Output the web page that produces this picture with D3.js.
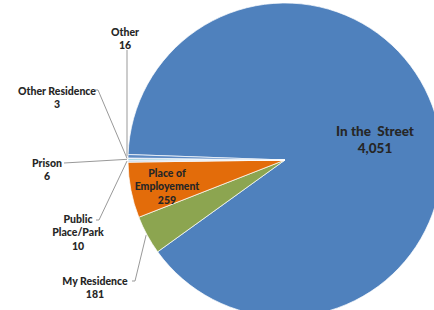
<!DOCTYPE html>
<html>
<head>
<meta charset="utf-8">
<script src="https://cdn.jsdelivr.net/npm/d3@7"></script>
<style>
  html, body { margin: 0; padding: 0; background: #fff; overflow: hidden; }
  svg { display: block; font-family: Lato, "Open Sans", sans-serif; font-weight: bold; }
</style>
</head>
<body>
<svg id="chart" width="434" height="310"></svg>
<script>
'use strict';

// slice data, in drawing order (clockwise)
const categories = ['In the  Street', 'My Residence', 'Place of Employement', 'Public Place/Park', 'Prison', 'Other Residence', 'Other'];
const values = [4051, 181, 259, 10, 6, 3, 16];
const colors = ['#4F81BD', '#8CA550', '#E36C0A', '#C6D3E6', '#4BACC6', '#9BB7D9', '#5C8AC4'];

// label layout: line breaks, anchor point and leader line elbow
const labelLines = [['In the  Street'], ['My Residence'], ['Place of', 'Employement'], ['Public', 'Place/Park'], ['Prison'], ['Other Residence'], ['Other']];
const labelPos = [[375, 131], [95, 281], [167, 173], [78, 219], [47, 163], [57, 91], [125, 32]];
const leaderStart = [null, [135, 281], null, [99, 220], [64, 163], [98, 90], [127, 50]];

const width = 434, height = 310;
const cx = 285, cy = 160, r = 157;
const fmt = d3.format(',');

const svg = d3.select('#chart');
const g = svg.append('g').attr('transform', 'translate(' + cx + ',' + cy + ')');

const startA = -88 * Math.PI / 180;
const pie = d3.pie().sort(null).value(d => d.value)
	.startAngle(startA).endAngle(startA + 2 * Math.PI);

const data = categories.map((c, i) => ({ name: c, value: values[i], color: colors[i], i }));
const arcs = pie(data);

const arc = d3.arc().innerRadius(0).outerRadius(r);
const edge = d3.arc().innerRadius(r).outerRadius(r);

g.selectAll('path.slice')
	.data(arcs)
	.join('path')
		.attr('class', 'slice')
		.attr('d', arc)
		.attr('fill', d => d.data.color)
		.attr('stroke', '#fff')
		.attr('stroke-width', 0.7)
		.attr('stroke-linejoin', 'round');

// leader lines
const leaders = arcs.filter(d => leaderStart[d.data.i]);
svg.selectAll('polyline.leader')
	.data(leaders)
	.join('polyline')
		.attr('class', 'leader')
		.attr('fill', 'none')
		.attr('stroke', '#999')
		.attr('stroke-width', 1)
		.attr('points', d => {
			const s = leaderStart[d.data.i];
			const e = edge.centroid(d);
			const ex = cx + e[0] - 1, ey = cy + e[1];
			if (d.data.name === 'Other') return [s, [s[0], ey]].join(' ');
			if (d.data.name === 'Prison') return [s, [ex, ey]].join(' ');
			return [[s[0] - 3, s[1]], s, [ex, ey]].join(' ');
		});

// labels
const labels = svg.selectAll('text.lbl')
	.data(arcs)
	.join('text')
		.attr('class', 'lbl')
		.attr('text-anchor', 'middle')
		.attr('fill', '#262626')
		.attr('font-weight', 900)
		.attr('font-size', d => d.data.i === 0 ? 13.5 : 10.5)
		.attr('x', d => labelPos[d.data.i][0])
		.attr('y', d => labelPos[d.data.i][1]);

labels.each(function(d) {
	const t = d3.select(this);
	const lines = labelLines[d.data.i].concat([fmt(d.data.value)]);
	const lh = d.data.i === 0 ? 17 : 13.8;
	lines.forEach((l, k) => {
		t.append('tspan')
			.attr('x', labelPos[d.data.i][0])
			.attr('dy', k === 0 ? '0.35em' : lh)
			.attr('xml:space', 'preserve')
			.style('white-space', 'pre')
			.text(l);
	});
});
</script>
</body>
</html>
